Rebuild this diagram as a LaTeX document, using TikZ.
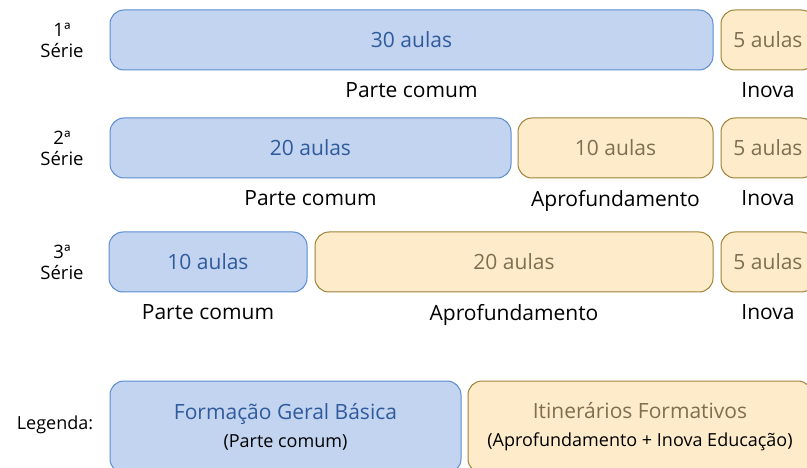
\documentclass[tikz,border=0pt]{standalone}
\usepackage{fontspec}
\setmainfont{Open Sans}
\usetikzlibrary{positioning}
\definecolor{fgbfill}{HTML}{C2D4F0}
\definecolor{fgbdraw}{HTML}{5B8BD1}
\definecolor{fgbtext}{HTML}{2F5A9C}
\definecolor{itffill}{HTML}{FEEBC9}
\definecolor{itfdraw}{HTML}{9F8237}
\definecolor{itftext}{HTML}{7F6F52}
\begin{document}
\begin{tikzpicture}[
    x=1pt, y=-1pt,
    every node/.style={inner sep=0pt, font=\fontsize{21}{24}\selectfont},
    fgb/.style={rectangle, rounded corners=14pt, draw=fgbdraw, fill=fgbfill, text=fgbtext, line width=1pt, minimum height=60pt},
    itf/.style={rectangle, rounded corners=14pt, draw=itfdraw, fill=itffill, text=itftext, line width=1pt, minimum height=60pt},
    serie/.style={align=center, font=\fontsize{18.5}{21}\selectfont}
]
    \useasboundingbox (0,0) rectangle (807,468);
    \clip (0,0) rectangle (807,468);

    \node (serie1) [serie] at (62,40) {1ª\\Série};
    \node (pc1) [fgb, minimum width=603pt] at (411.5,40) {30 aulas};
    \node (inova1) [itf, minimum width=94pt] at (768,40) {5 aulas};
    \node [below=12pt of pc1] {Parte comum};
    \node [below=12pt of inova1] {Inova};

    \node (serie2) [serie] at (62,148) {2ª\\Série};
    \node (pc2) [fgb, minimum width=401pt] at (310.5,148) {20 aulas};
    \node (aprof2) [itf, minimum width=195pt] at (615.5,148) {10 aulas};
    \node (inova2) [itf, minimum width=94pt] at (768,148) {5 aulas};
    \node [below=12pt of pc2] {Parte comum};
    \node [below=12pt of aprof2] {Aprofundamento};
    \node [below=12pt of inova2] {Inova};

    \node (serie3) [serie] at (62,262) {3ª\\Série};
    \node (pc3) [fgb, minimum width=198pt] at (208,262) {10 aulas};
    \node (aprof3) [itf, minimum width=398pt] at (514,262) {20 aulas};
    \node (inova3) [itf, minimum width=94pt] at (768,262) {5 aulas};
    \node [below=12pt of pc3] {Parte comum};
    \node [below=12pt of aprof3] {Aprofundamento};
    \node [below=12pt of inova3] {Inova};

    \node (legenda) [font=\fontsize{18}{22}\selectfont] at (55,425) {Legenda:};
    \node (legfgb) [fgb, minimum width=351pt, minimum height=92pt, align=center] at (285.5,427)
        {Formação Geral Básica\\[4pt]{\fontsize{18}{21}\selectfont\color{black}(Parte comum)}};
    \node (legitf) [itf, minimum width=344pt, minimum height=92pt, align=center] at (640,427)
        {Itinerários Formativos\\[4pt]{\fontsize{18}{21}\selectfont\color{black}(Aprofundamento + Inova Educação)}};
\end{tikzpicture}
\end{document}
